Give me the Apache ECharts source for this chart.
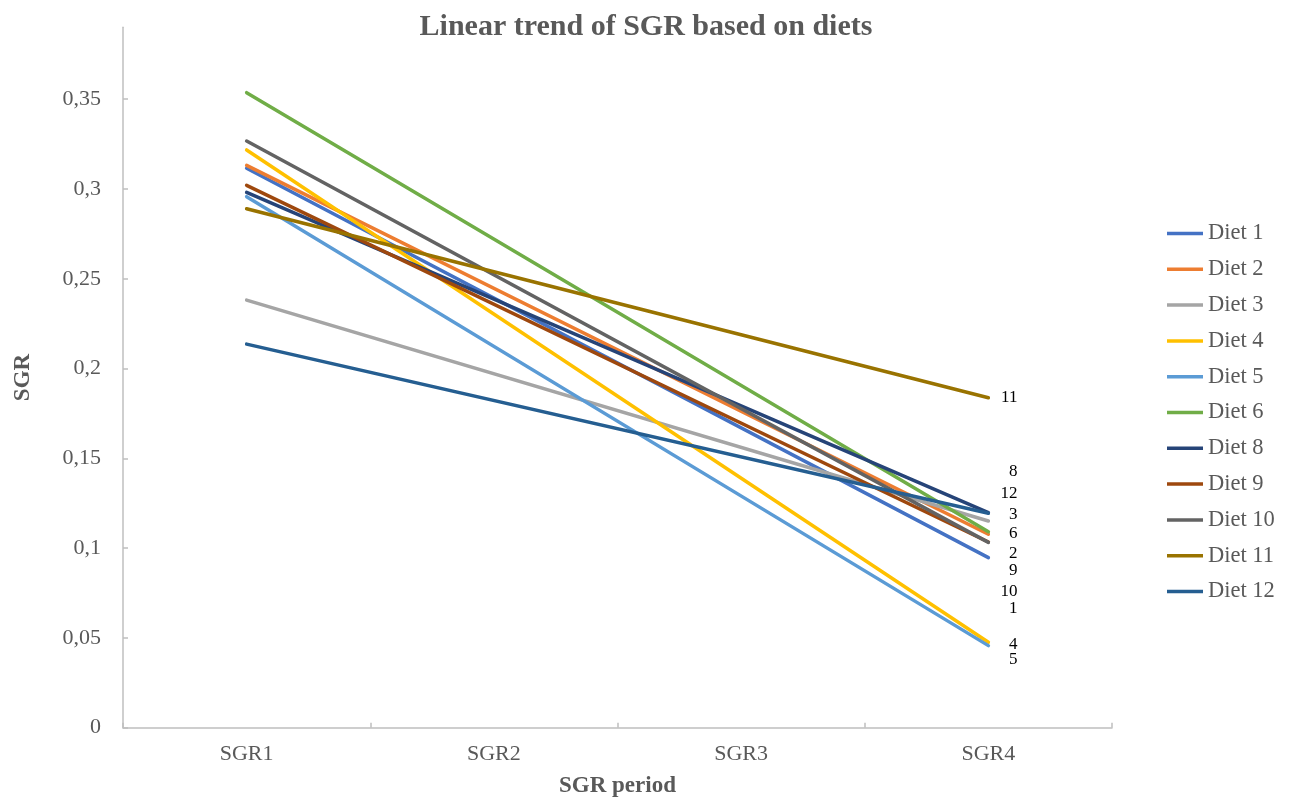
<!DOCTYPE html>
<html>
<head>
<meta charset="utf-8">
<script src="https://cdn.jsdelivr.net/npm/echarts@6/dist/echarts.min.js"></script>
<style>
html,body{margin:0;padding:0;background:#fff;}
#chart{width:1290px;height:801px;}
</style>
</head>
<body>
<div id="chart"></div>
<script>
const categories = ['SGR1', 'SGR2', 'SGR3', 'SGR4'];
const dietNames = ['Diet 1','Diet 2','Diet 3','Diet 4','Diet 5','Diet 6','Diet 8','Diet 9','Diet 10','Diet 11','Diet 12'];
const endLabels = ['1','2','3','4','5','6','8','9','10','11','12'];
// SGR values at SGR1 and SGR4 (linear trend between them)
const sgr1 = [0.3115, 0.3131, 0.2381, 0.3217, 0.2957, 0.3536, 0.2981, 0.3020, 0.3267, 0.2890, 0.2136];
const sgr4 = [0.0947, 0.1077, 0.1151, 0.0476, 0.0457, 0.1091, 0.1197, 0.1034, 0.1032, 0.1837, 0.1194];
const yTicks = [0, 0.05, 0.1, 0.15, 0.2, 0.25, 0.3, 0.35];
const colors = ['#4472C4','#ED7D31','#A5A5A5','#FFC000','#5B9BD5','#70AD47','#264478','#9E480E','#636363','#997300','#255E91'];
// label offsets (vertical) for end labels
const labelDy = [51, 19, -6, 2, 14, 2, -41, 29, 49, 0, -20];

const FONT = 'Liberation Serif';
const chart = echarts.init(document.getElementById('chart'), null, {renderer:'canvas'});

const series = dietNames.map((name, i) => ({
  name: name,
  type: 'line',
  symbol: 'circle',
  symbolSize: 0,
  showSymbol: true,
  connectNulls: true,
  lineStyle: {width: 3.5, color: colors[i], cap: 'round'},
  itemStyle: {color: colors[i]},
  emphasis: {disabled: true},
  data: [
    sgr1[i],
    null,
    null,
    {
      value: sgr4[i],
      label: {
        show: true,
        position: 'right',
        distance: 29,
        align: 'right',
        offset: [0, labelDy[i]],
        formatter: endLabels[i],
        fontFamily: FONT,
        fontSize: 17,
        color: '#000'
      }
    }
  ]
}));

chart.setOption({
  animation: false,
  backgroundColor: '#fff',
  color: colors,
  title: {
    text: 'Linear trend of SGR based on diets',
    left: 641,
    textAlign: 'center',
    top: 7,
    textStyle: {fontFamily: FONT, fontSize: 30, fontWeight: 'bold', color: '#595959'}
  },
  legend: {
    orient: 'vertical',
    left: 1167,
    top: 222,
    padding: 0,
    icon: 'rect',
    itemWidth: 36,
    itemHeight: 3.5,
    itemGap: 12.8,
    data: dietNames,
    textStyle: {fontFamily: FONT, fontSize: 22.5, color: '#595959', lineHeight: 22}
  },
  grid: {left: 123, right: 178, top: 27.3, bottom: 73.3, containLabel: false, outerBoundsMode: 'none'},
  xAxis: {
    type: 'category',
    data: categories,
    boundaryGap: true,
    name: 'SGR period',
    nameLocation: 'middle',
    nameGap: 47,
    nameTextStyle: {fontFamily: FONT, fontSize: 23, fontWeight: 'bold', color: '#595959'},
    axisLine: {lineStyle: {color: '#BFBFBF', width: 1.5}},
    axisTick: {show: true, inside: true, length: 5, lineStyle: {color: '#BFBFBF', width: 1.5}},
    axisLabel: {fontFamily: FONT, fontSize: 22, color: '#595959', margin: 16},
    splitLine: {show: false}
  },
  yAxis: {
    type: 'value',
    min: 0,
    max: 0.39,
    interval: 0.05,
    name: 'SGR',
    nameLocation: 'middle',
    nameGap: 88,
    nameTextStyle: {fontFamily: FONT, fontSize: 23, fontWeight: 'bold', color: '#595959'},
    axisLine: {show: true, lineStyle: {color: '#BFBFBF', width: 1.5}},
    axisTick: {show: true, inside: true, length: 5, customValues: yTicks, lineStyle: {color: '#BFBFBF', width: 1.5}},
    axisLabel: {
      fontFamily: FONT, fontSize: 22, color: '#595959', margin: 22,
      customValues: yTicks,
      formatter: v => String(+v.toFixed(2)).replace('.', ',')
    },
    splitLine: {show: false}
  },
  series: series
});
</script>
</body>
</html>
